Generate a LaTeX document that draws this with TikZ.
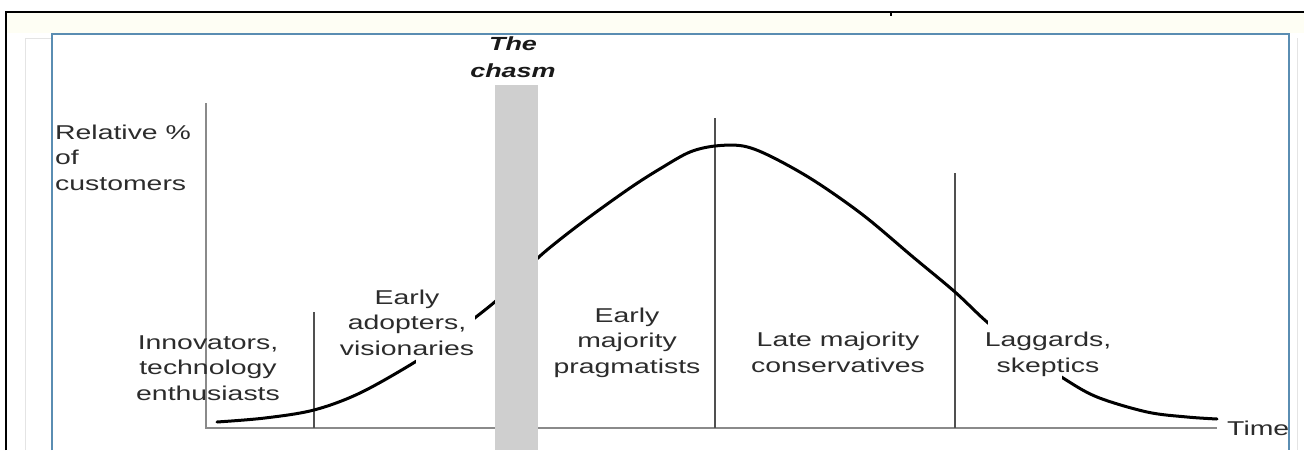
\documentclass[tikz,border=0pt]{standalone}
\usepackage{fontspec}
\setmainfont{Liberation Sans}[FakeStretch=1.42]
\definecolor{txtgray}{HTML}{2C2C2C}
\definecolor{divgray}{HTML}{505050}
\definecolor{axgray}{HTML}{8A8A8A}
\definecolor{barc}{HTML}{CFCFCF}
\definecolor{bluec}{HTML}{5A8DB2}
\definecolor{faintc}{HTML}{E4E4E4}
\definecolor{creamc}{HTML}{FEFEF4}
\begin{document}
\begin{tikzpicture}[x=1pt,y=-1pt,
  lbl/.style={font=\fontsize{20}{25.5}\selectfont, text=txtgray, align=center, inner sep=0pt, anchor=base},
  divider/.style={draw=divgray, line width=1.3pt},
  axisline/.style={draw=axgray, line width=2pt},
  curveline/.style={draw=black, line width=3pt, line cap=round},
  gapbox/.style={fill=white, draw=none}]
\useasboundingbox (0,0) rectangle (1304,450);
\fill[white] (0,0) rectangle (1304,450);
\fill[creamc] (7,13) rectangle (1304,33);
% faint outer lines
\draw[faintc, line width=1pt] (25,450) -- (25,38) -- (51,38);
\draw[faintc, line width=1pt] (1297,38) -- (1297,450);
% blue frame
\draw[bluec, line width=2pt] (52,450) -- (52,34) -- (1289,34) -- (1289,450);
% black frame
\draw[black, line width=2pt] (6,450) -- (6,12) -- (1304,12);
\draw[black, line width=2pt] (891,12) -- (891,16);
% axes
\coordinate (ytop) at (206,103);
\coordinate (origin) at (206,428);
\coordinate (xend) at (1217,428);
\draw[axisline] (ytop) -- (origin) -- (xend);
% dividers
\coordinate (d1t) at (314,312); \coordinate (d1b) at (314,428);
\coordinate (d2t) at (715,118); \coordinate (d2b) at (715,428);
\coordinate (d3t) at (955,173); \coordinate (d3b) at (955,428);
\draw[divider] (d1t) -- (d1b);
\draw[divider] (d2t) -- (d2b);
\draw[divider] (d3t) -- (d3b);
% curve
\draw[curveline] plot[smooth, tension=0.55] coordinates {(217,422) (265,418) (314,410) (360,393) (415,362) (446,340) (476,317) (497,300) (520,278) (540,256) (580,224) (630,188) (663,167) (690,152) (715,146) (743,146) (770,156) (813,180) (863,215) (913,257) (955,292) (987,322) (1025,352) (1063,378) (1097,397) (1147,412) (1187,417) (1217,419)};
% gaps in curve around labels
\fill[gapbox] (416,290) rectangle (475,380);
\fill[gapbox] (988,300) rectangle (1062,395);
% chasm bar
\fill[barc] (495,85) rectangle (538,450);
% labels
\node[lbl, font=\fontsize{19}{27}\selectfont\bfseries\itshape, text=black!90] (chasm) at (513,77) {The\\chasm};
\node[lbl, align=left, anchor=base west] (yl) at (55,190) {Relative \%\\of\\customers};
\node[lbl] (inn) at (208,400) {Innovators,\\technology\\enthusiasts};
\node[lbl] (ea) at (407,355) {Early\\adopters,\\visionaries};
\node[lbl] (em) at (627,373) {Early\\majority\\pragmatists};
\node[lbl] (lm) at (838,372) {Late majority\\conservatives};
\node[lbl] (lg) at (1048,372) {Laggards,\\skeptics};
\node[lbl, anchor=base west] (time) at (1227,435) {Time};
\end{tikzpicture}
\end{document}
